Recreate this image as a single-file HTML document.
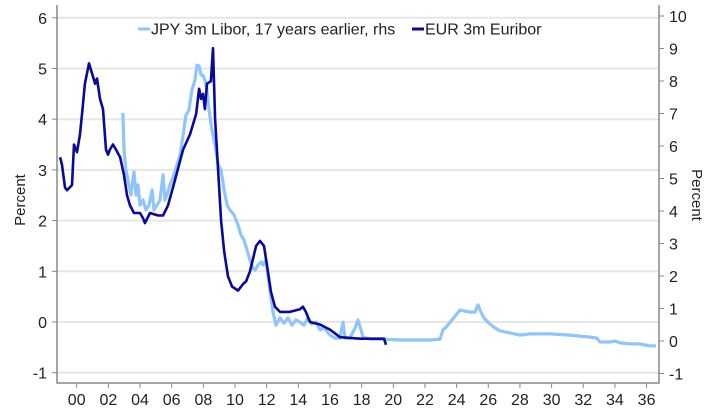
<!DOCTYPE html>
<html><head><meta charset="utf-8"><style>
body{margin:0;background:#fff;}
svg text{font-family:"Liberation Sans",sans-serif;fill:#222;}
</style></head><body>
<svg id="chart" width="713" height="410" viewBox="0 0 713 410" xmlns="http://www.w3.org/2000/svg">
<g id="grid"></g>
<g id="axes"></g>
<g id="series"></g>
<g>
<line x1="138" y1="29" x2="150" y2="29" stroke="#8fc5fb" stroke-width="3"/>
<text x="151" y="34.5" font-size="16">JPY 3m Libor, 17 years earlier, rhs</text>
<line x1="412" y1="29" x2="424" y2="29" stroke="#0a0a9a" stroke-width="3"/>
<text x="425" y="34.5" font-size="16">EUR 3m Euribor</text>
</g>
<text transform="translate(25,200) rotate(-90)" text-anchor="middle" font-size="15">Percent</text>
<text transform="translate(692,195) rotate(90)" text-anchor="middle" font-size="15">Percent</text>
</svg>
<script>
const leftTicks=[-1,0,1,2,3,4,5,6];
const rightTicks=[-1,0,1,2,3,4,5,6,7,8,9,10];
const xTickYears=[2000,2002,2004,2006,2008,2010,2012,2014,2016,2018,2020,2022,2024,2026,2028,2030,2032,2034,2036];
const xTickLabels=["00","02","04","06","08","10","12","14","16","18","20","22","24","26","28","30","32","34","36"];
const eurYears=[1998.95,1999.07,1999.26,1999.39,1999.7,1999.83,2000.02,2000.21,2000.4,2000.52,2000.78,2000.97,2001.16,2001.28,2001.47,2001.66,2001.85,2001.98,2002.1,2002.29,2002.48,2002.74,2002.99,2003.18,2003.37,2003.62,2004.0,2004.19,2004.31,2004.63,2005.14,2005.45,2005.77,2006.21,2006.72,2007.16,2007.54,2007.73,2007.85,2007.98,2008.1,2008.23,2008.48,2008.61,2008.74,2008.93,2009.12,2009.31,2009.56,2009.81,2010.19,2010.51,2010.7,2010.95,2011.33,2011.58,2011.83,2012.08,2012.27,2012.53,2012.84,2013.47,2014.1,2014.29,2014.48,2014.74,2015.37,2016.0,2016.63,2017.9,2019.41,2019.54];
const eurValues=[3.25,3.1,2.65,2.6,2.7,3.5,3.35,3.7,4.3,4.7,5.1,4.9,4.7,4.8,4.4,4.2,3.4,3.3,3.4,3.5,3.4,3.25,2.9,2.5,2.3,2.15,2.15,2.05,1.95,2.15,2.1,2.1,2.3,2.8,3.4,3.7,4.1,4.6,4.4,4.5,4.2,4.7,4.75,5.4,4.0,3.0,2.0,1.4,0.9,0.7,0.62,0.75,0.8,1.0,1.5,1.6,1.5,1.0,0.6,0.3,0.2,0.2,0.25,0.3,0.2,0.0,-0.05,-0.15,-0.3,-0.33,-0.33,-0.45];
const jpyYears=[2002.92,2002.99,2003.11,2003.24,2003.43,2003.62,2003.75,2003.87,2004.0,2004.19,2004.38,2004.57,2004.76,2004.88,2005.07,2005.26,2005.45,2005.58,2005.7,2005.89,2006.02,2006.27,2006.53,2006.72,2006.9,2007.09,2007.28,2007.47,2007.6,2007.73,2007.85,2007.98,2008.1,2008.23,2008.36,2008.55,2008.74,2008.93,2009.12,2009.31,2009.5,2009.68,2009.94,2010.19,2010.38,2010.57,2010.76,2010.95,2011.14,2011.27,2011.46,2011.65,2011.77,2011.96,2012.08,2012.21,2012.4,2012.59,2012.84,2013.1,2013.35,2013.6,2013.85,2014.1,2014.36,2014.61,2014.86,2015.11,2015.37,2015.62,2016.0,2016.32,2016.63,2016.82,2016.95,2017.26,2017.58,2017.77,2017.96,2018.08,2018.52,2019.15,2020.42,2022.31,2022.95,2023.14,2023.39,2023.71,2023.96,2024.21,2024.53,2024.85,2025.16,2025.35,2025.48,2025.73,2026.11,2026.43,2026.74,2027.37,2028.0,2028.63,2029.9,2031.16,2032.42,2032.87,2033.06,2033.69,2034.0,2034.32,2034.95,2035.58,2036.21,2036.59];
const jpyValues=[7.02,5.88,5.26,4.95,4.49,5.2,4.49,4.8,4.18,4.34,4.03,4.18,4.65,4.03,4.18,4.34,5.11,4.34,4.49,4.8,4.95,5.32,5.72,6.34,6.95,7.1,7.72,8.03,8.49,8.46,8.18,8.18,8.03,7.72,7.1,6.49,6.03,5.42,5.26,4.65,4.18,4.03,3.88,3.57,3.26,3.11,2.8,2.49,2.25,2.18,2.34,2.43,2.34,2.49,2.03,1.57,0.89,0.49,0.71,0.55,0.71,0.49,0.65,0.58,0.49,0.71,0.52,0.58,0.34,0.4,0.18,0.09,0.09,0.58,0.09,0.09,0.4,0.65,0.34,0.12,0.06,0.06,0.03,0.03,0.06,0.34,0.46,0.65,0.8,0.95,0.92,0.89,0.89,1.11,0.95,0.71,0.52,0.4,0.31,0.25,0.18,0.22,0.22,0.18,0.12,0.09,-0.03,-0.03,0,-0.06,-0.09,-0.09,-0.15,-0.15];

const X0=57,X1=659,YT=5,YB=383;
const xS=y=>76.7+(y-2000)*15.83;
const yL=v=>322-50.7*v;
const yR=v=>341-32.5*v;
const NS="http://www.w3.org/2000/svg";
function mk(tag,parent,attrs){const e=document.createElementNS(NS,tag);for(const k in attrs)e.setAttribute(k,attrs[k]);parent.appendChild(e);return e;}
const grid=document.getElementById('grid'),axes=document.getElementById('axes'),series=document.getElementById('series');
leftTicks.forEach(v=>{
  const g=mk('line',grid,{x1:X0,x2:X1,y1:yL(v),y2:yL(v),stroke:'#e6e6e6','stroke-width':2});
  
  
  const t=mk('line',axes,{x1:X0-5,x2:X0,y1:yL(v),y2:yL(v),stroke:'#888'});
  
  
  const l=mk('text',axes,{x:X0-10,y:yL(v)+6,'text-anchor':'end','font-size':16});
  
  
  l.textContent=v;
});
rightTicks.forEach(v=>{
  const t=mk('line',axes,{x1:X1,x2:X1+5,y1:yR(v),y2:yR(v),stroke:'#888'});
  
  
  const l=mk('text',axes,{x:X1+10,y:yR(v)+6,'font-size':16});
  
  
  l.textContent=v;
});
xTickYears.forEach((yr,i)=>{
  const t=mk('line',axes,{x1:xS(yr),x2:xS(yr),y1:YB,y2:YB+5,stroke:'#888'});
  
  
  const l=mk('text',axes,{x:xS(yr),y:YB+22,'text-anchor':'middle','font-size':16});
  
  
  l.textContent=xTickLabels[i];
});
const a1=mk('path',axes,{d:`M${X0},${YT}V${YB}H${X1}V${YT}`,fill:'none',stroke:'#888','stroke-width':1.5});


const jp=mk('path',series,{d:jpyYears.map((y,i)=>(i?'L':'M')+xS(y).toFixed(1)+','+yR(jpyValues[i]).toFixed(1)).join(''),fill:'none',stroke:'#8fc5fb','stroke-width':3.2,'stroke-linejoin':'round'});


const eu=mk('path',series,{d:eurYears.map((y,i)=>(i?'L':'M')+xS(y).toFixed(1)+','+yL(eurValues[i]).toFixed(1)).join(''),fill:'none',stroke:'#0a0a9a','stroke-width':2.6,'stroke-linejoin':'round'});


</script>
</body></html>
